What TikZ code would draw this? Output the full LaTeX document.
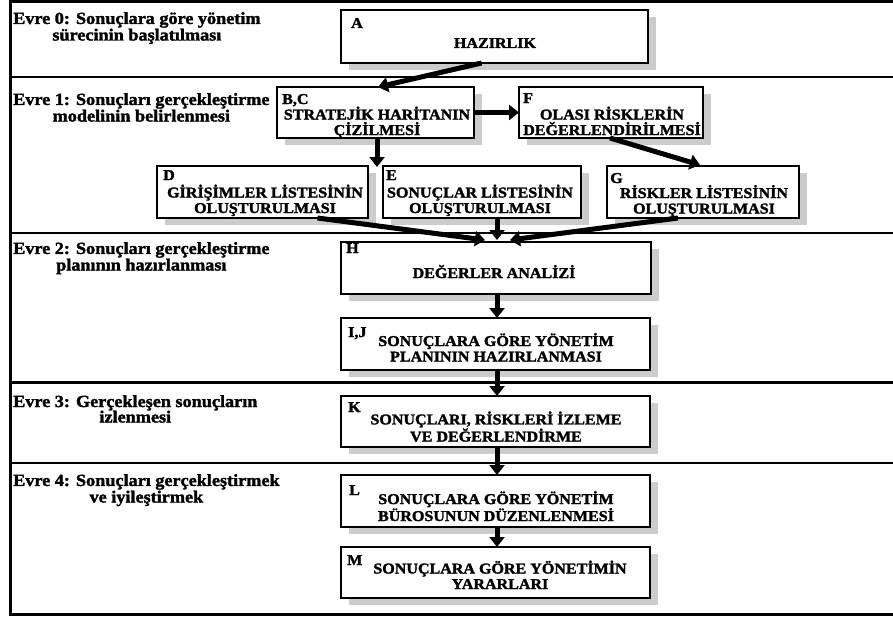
\documentclass[tikz,border=0pt]{standalone}
\usepackage{fontspec}
\setmainfont{Liberation Serif}
\newfontfamily\boxfont{Liberation Serif}[FakeStretch=1.07,FakeBold=1.8]
\usetikzlibrary{arrows.meta,shadows}
\definecolor{shadowgray}{RGB}{204,204,204}

\begin{document}
\begin{tikzpicture}[x=1pt,y=-1pt,
  box/.style={draw=black, line width=1.1pt, fill=white, rectangle,
    inner sep=0pt, outer sep=0pt,
    general shadow={fill=shadowgray, draw=none, shadow xshift=8pt, shadow yshift=-7pt}},
  tag/.style={anchor=base west, inner sep=0pt,
    font=\boxfont\bfseries\fontsize{15}{15}\selectfont},
  body/.style={anchor=base, inner sep=0pt, align=center,
    font=\boxfont\bfseries\fontsize{15}{15.5}\selectfont},
  phase/.style={anchor=base west, inner sep=0pt, align=center,
    font=\boxfont\bfseries\fontsize{17}{15.5}\selectfont},
  rule/.style={line width=2.7pt},
  flow/.style={line width=5pt, line cap=butt, -{Triangle[length=10pt,width=15pt]}}
]
\useasboundingbox (0,0) rectangle (893,618);

% outer frame and phase separators
\draw[rule, line join=miter] (900,1.3) -- (10.7,1.3) -- (10.7,614.5) -- (900,614.5);
\foreach \yy in {77,233,382.5,463} \draw[rule] (10.7,\yy) -- (900,\yy);

% phase titles (node base = baseline of the last line)
\node[phase] (p0) at (13,40.5)  {Evre 0: Sonuçlara göre yönetim\\sürecinin başlatılması};
\node[phase] (p1) at (13,121.5) {Evre 1: Sonuçları gerçekleştirme\\modelinin belirlenmesi};
\node[phase] (p2) at (13,270.5) {Evre 2: Sonuçları gerçekleştirme\\planının hazırlanması};
\node[phase] (p3) at (13,422.5) {Evre 3: Gerçekleşen sonuçların\\izlenmesi};
\node[phase] (p4) at (13,502.5) {Evre 4: Sonuçları gerçekleştirmek\\ve iyileştirmek};

% process boxes
\node[box, minimum width=307pt, minimum height=53pt] (a)  at (494.5,36.5) {};
\node[box, minimum width=197pt, minimum height=51pt] (bc) at (375.5,112.5) {};
\node[box, minimum width=184pt, minimum height=51pt] (f)  at (611,112.5) {};
\node[box, minimum width=211pt, minimum height=52pt] (d)  at (262.5,192) {};
\node[box, minimum width=198pt, minimum height=52pt] (e)  at (482,192) {};
\node[box, minimum width=192pt, minimum height=52pt] (g)  at (703,192) {};
\node[box, minimum width=310pt, minimum height=52pt] (h)  at (496,268) {};
\node[box, minimum width=309pt, minimum height=52pt] (ij) at (495.5,344) {};
\node[box, minimum width=309pt, minimum height=51pt] (k)  at (495.5,421.5) {};
\node[box, minimum width=309pt, minimum height=52pt] (l)  at (495.5,501) {};
\node[box, minimum width=309pt, minimum height=51pt] (m)  at (495.5,572.5) {};

% box contents
\node[tag]  (a-id)  at (351,28)  {A};
\node[body] (a-tx)  at (495,48)  {HAZIRLIK};
\node[tag]  (bc-id) at (282,104) {B,C};
\node[body] (bc-tx) at (377,135) {STRATEJİK HARİTANIN\\ÇİZİLMESİ};
\node[tag]  (f-id)  at (523,103) {F};
\node[body] (f-tx)  at (612,135) {OLASI RİSKLERİN\\DEĞERLENDİRİLMESİ};
\node[tag]  (d-id)  at (163,180) {D};
\node[body] (d-tx)  at (265,213) {GİRİŞİMLER LİSTESİNİN\\OLUŞTURULMASI};
\node[tag]  (e-id)  at (386,180) {E};
\node[body] (e-tx)  at (480,213) {SONUÇLAR LİSTESİNİN\\OLUŞTURULMASI};
\node[tag]  (g-id)  at (610,183) {G};
\node[body] (g-tx)  at (704,213.5) {RİSKLER LİSTESİNİN\\OLUŞTURULMASI};
\node[tag]  (h-id)  at (346,253) {H};
\node[body] (h-tx)  at (494,278) {DEĞERLER ANALİZİ};
\node[tag]  (ij-id) at (348,337) {I,J};
\node[body] (ij-tx) at (496,361.5) {SONUÇLARA GÖRE YÖNETİM\\PLANININ HAZIRLANMASI};
\node[tag]  (k-id)  at (348,412) {K};
\node[body] (k-tx)  at (496,441.5) {SONUÇLARI, RİSKLERİ İZLEME\\VE DEĞERLENDİRME};
\node[tag]  (l-id)  at (349,495) {L};
\node[body] (l-tx)  at (496,521) {SONUÇLARA GÖRE YÖNETİM\\BÜROSUNUN DÜZENLENMESİ};
\node[tag]  (m-id)  at (347,565) {M};
\node[body] (m-tx)  at (500,589) {SONUÇLARA GÖRE YÖNETİMİN\\YARARLARI};

% connectors
\coordinate (gapde) at (377,167);
\draw[flow] ([xshift=-13pt]a.south) -- ([xshift=2.5pt]bc.north);
\draw[flow] (bc.east) -- (f.west);
\draw[flow] ([xshift=1.5pt]bc.south) -- (gapde);
\draw[flow] ([xshift=-1pt]f.south) -- ([xshift=-3pt,yshift=1pt]g.north);
\draw[flow] ([xshift=55pt]d.south) -- ([xshift=-11pt,yshift=2pt]h.north);
\draw[flow] ([xshift=15pt]e.south) -- ([xshift=1pt,yshift=2pt]h.north);
\draw[flow] ([xshift=-25pt]g.south) -- ([xshift=14pt,yshift=2pt]h.north);
\draw[flow] ([xshift=1pt]h.south) -- ([xshift=1.5pt]ij.north);
\draw[flow] ([xshift=1.5pt]ij.south) -- ([xshift=1.5pt]k.north);
\draw[flow] ([xshift=1.5pt]k.south) -- ([xshift=1.5pt]l.north);
\draw[flow] ([xshift=1.5pt]l.south) -- ([xshift=1.5pt]m.north);
\end{tikzpicture}
\end{document}
